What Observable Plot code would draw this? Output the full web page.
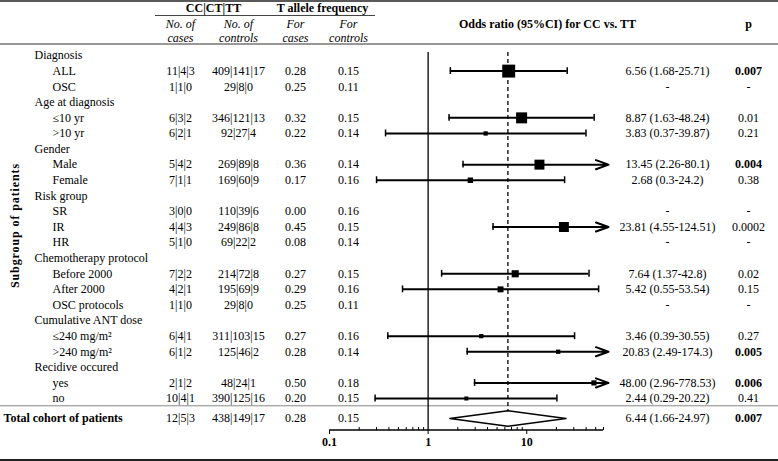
<!DOCTYPE html>
<html><head><meta charset="utf-8">
<script src="https://cdn.jsdelivr.net/npm/d3@7"></script>
<script src="https://cdn.jsdelivr.net/npm/@observablehq/plot@0.6"></script>
<style>html,body{margin:0;padding:0;background:#fff;} #chart svg{display:block;}</style>
</head><body><div id="chart"></div>
<script>
// ---------- data ----------
const rowLabels = ["Diagnosis","ALL","OSC","Age at diagnosis","≤10 yr",">10 yr","Gender","Male","Female","Risk group","SR","IR","HR","Chemotherapy protocol","Before 2000","After 2000","OSC protocols","Cumulative ANT dose","≤240 mg/m²",">240 mg/m²","Recidive occured","yes","no"];
const rowIsGroup = [1,0,0,1,0,0,1,0,0,1,0,0,0,1,0,0,0,1,0,0,1,0,0];
const casesCCCTTT = ["","11|4|3","1|1|0","","6|3|2","6|2|1","","5|4|2","7|1|1","","3|0|0","4|4|3","5|1|0","","7|2|2","4|2|1","1|1|0","","6|4|1","6|1|2","","2|1|2","10|4|1"];
const controlsCCCTTT = ["","409|141|17","29|8|0","","346|121|13","92|27|4","","269|89|8","169|60|9","","110|39|6","249|86|8","69|22|2","","214|72|8","195|69|9","29|8|0","","311|103|15","125|46|2","","48|24|1","390|125|16"];
const tFreqCases = [null,0.28,0.25,null,0.32,0.22,null,0.36,0.17,null,0.00,0.45,0.08,null,0.27,0.29,0.25,null,0.27,0.28,null,0.50,0.20];
const tFreqControls = [null,0.15,0.11,null,0.15,0.14,null,0.14,0.16,null,0.16,0.15,0.14,null,0.15,0.16,0.11,null,0.16,0.14,null,0.18,0.15];
const oddsRatio = [null,6.56,null,null,8.87,3.83,null,13.45,2.68,null,null,23.81,null,null,7.64,5.42,null,null,3.46,20.83,null,48.00,2.44];
const ciLower = [null,1.68,null,null,1.63,0.37,null,2.26,0.3,null,null,4.55,null,null,1.37,0.55,null,null,0.39,2.49,null,2.96,0.29];
const ciUpper = [null,25.71,null,null,48.24,39.87,null,80.1,24.2,null,null,124.51,null,null,42.8,53.54,null,null,30.55,174.3,null,778.53,20.22];
const orLabels = ["","6.56 (1.68-25.71)","-","","8.87 (1.63-48.24)","3.83 (0.37-39.87)","","13.45 (2.26-80.1)","2.68 (0.3-24.2)","","-","23.81 (4.55-124.51)","-","","7.64 (1.37-42.8)","5.42 (0.55-53.54)","-","","3.46 (0.39-30.55)","20.83 (2.49-174.3)","","48.00 (2.96-778.53)","2.44 (0.29-20.22)"];
const pLabels = ["","0.007","-","","0.01","0.21","","0.004","0.38","","-","0.0002","-","","0.02","0.15","-","","0.27","0.005","","0.006","0.41"];
const pBold = [0,1,0,0,0,0,0,1,0,0,0,0,0,0,0,0,0,0,0,1,0,1,0];
const studyWeight = [null,100,null,null,85,33,null,77,42,null,null,77,null,null,55,46,null,null,33,33,null,40,31];

const totalLabel = "Total cohort of patients";
const totalCases = "12|5|3";
const totalControls = "438|149|17";
const totalFreq = [0.28, 0.15];
const totalOR = 6.44, totalLower = 1.66, totalUpper = 24.97;
const totalORLabel = "6.44 (1.66-24.97)";
const totalP = "0.007";

const axisDomain = [0.1, 60];
const majorTicks = [0.1, 1, 10];
const minorTicks = [0.2,0.3,0.4,0.5,0.6,0.7,0.8,0.9,2,3,4,5,6,7,8,9,20,30,40,50,60];

// ---------- build ----------
const rows = rowLabels.map((label, i) => ({
  i, label, group: rowIsGroup[i] === 1,
  cases: casesCCCTTT[i], controls: controlsCCCTTT[i],
  fCases: tFreqCases[i] == null ? "" : tFreqCases[i].toFixed(2),
  fControls: tFreqControls[i] == null ? "" : tFreqControls[i].toFixed(2),
  or: oddsRatio[i], lo: ciLower[i], hi: ciUpper[i],
  orText: orLabels[i], p: pLabels[i], bold: pBold[i] === 1, w: studyWeight[i]
}));
const xMax = axisDomain[1];
const est = rows.filter(d => d.or != null);
const within = est.filter(d => d.hi <= xMax);
const beyond = est.filter(d => d.hi > xMax);
const totalRow = rows.length + 0.28;
const axisRow = rows.length + 1.05;
const total = [{i: totalRow, label: totalLabel, cases: totalCases, controls: totalControls,
  fCases: totalFreq[0].toFixed(2), fControls: totalFreq[1].toFixed(2), orText: totalORLabel, p: totalP}];
const diamond = [
  {x: totalLower, y: totalRow}, {x: totalOR, y: totalRow - 0.5},
  {x: totalUpper, y: totalRow}, {x: totalOR, y: totalRow + 0.5}, {x: totalLower, y: totalRow}
];
const tableRows = rows.concat(total);

function tableRules(index, scales, values, dimensions) {
  const {width, height, marginBottom} = dimensions;
  const axisY = height - marginBottom;
  const lines = [
    {x1: 0, x2: width, y: 1, w: 1.5, c: "#222"},
    {x1: 155, x2: 375, y: 15.5, w: 1.2, c: "#444"},
    {x1: 0, x2: width, y: 44, w: 1.2, c: "#333"},
    {x1: 0, x2: width, y: scales.y(rows.length - 0.5), w: 1, c: "#888"},
    {x1: 0, x2: width, y: height - 1, w: 2, c: "#222"},
    {x1: scales.x(axisDomain[0]), x2: scales.x(axisDomain[1]), y: axisY, w: 1.3, c: "#000"}
  ];
  const g = d3.create("svg:g");
  g.selectAll("line").data(lines).join("line")
    .attr("x1", d => d.x1).attr("x2", d => d.x2)
    .attr("y1", d => d.y).attr("y2", d => d.y)
    .attr("stroke", d => d.c).attr("stroke-width", d => d.w);
  return g.node();
}

const col = (key, dx, opts = {}) => Plot.text(tableRows, {y: "i", text: key, frameAnchor: "left", dx, textAnchor: "middle", ...opts});
const head = (txt, dx, dy, opts = {}) => Plot.text([txt], {frameAnchor: "top-left", dx, dy, textAnchor: "middle", lineAnchor: "middle", ...opts});

const chart = Plot.plot({
  width: 778, height: 461,
  marginTop: 0, marginLeft: 0, marginRight: 0, marginBottom: 31,
  style: {fontFamily: "Liberation Serif", fontSize: "12px", color: "#000", background: "#fff"},
  x: {type: "log", domain: axisDomain, range: [329, 603]},
  y: {domain: [0, 22], range: [55, 398], axis: null},
  r: {type: "linear", domain: [0, 100], range: [0, 7.3]},
  marks: [
    tableRules,
    // reference lines
    Plot.ruleX([1], {y1: -0.2, y2: axisRow, stroke: "#000", strokeWidth: 1.3}),
    Plot.ruleX([totalOR], {y1: -0.2, y2: totalRow - 0.5, stroke: "#000", strokeWidth: 1.3, strokeDasharray: "4,3"}),
    // CIs
    Plot.ruleY(within, {y: "i", x1: "lo", x2: "hi", stroke: "#000", strokeWidth: 2}),
    Plot.arrow(beyond, {x1: "lo", x2: () => xMax, y1: "i", y2: "i", stroke: "#000", strokeWidth: 2, headLength: 10, headAngle: 40, insetEnd: -5}),
    Plot.ruleX(est, {x: "lo", y1: d => d.i - 0.22, y2: d => d.i + 0.22, stroke: "#000", strokeWidth: 1.5}),
    Plot.ruleX(within, {x: "hi", y1: d => d.i - 0.22, y2: d => d.i + 0.22, stroke: "#000", strokeWidth: 1.5}),
    Plot.dot(est, {x: "or", y: "i", r: "w", symbol: "square", fill: "#000", stroke: null}),
    Plot.line(diamond, {x: "x", y: "y", stroke: "#000", strokeWidth: 1.5, fill: "#fff"}),
    // axis
    Plot.axisX(majorTicks, {anchor: "bottom", tickSize: 4, tickPadding: 3, tickFormat: d => `${d}`, fontWeight: "bold", fontSize: 12}),
    Plot.axisX(minorTicks, {anchor: "bottom", tickSize: -3, tickFormat: () => ""}),
    // row labels
    Plot.text(rows.filter(d => d.group), {y: "i", text: "label", frameAnchor: "left", dx: 34, textAnchor: "start"}),
    Plot.text(rows.filter(d => !d.group), {y: "i", text: "label", frameAnchor: "left", dx: 52, textAnchor: "start"}),
    Plot.text(total, {y: "i", text: "label", frameAnchor: "left", dx: 3, textAnchor: "start", fontWeight: "bold"}),
    // table columns
    col("cases", 180), col("controls", 238), col("fCases", 295), col("fControls", 348),
    col("orText", 667),
    Plot.text(tableRows.filter(d => !d.bold && d.i !== totalRow), {y: "i", text: "p", frameAnchor: "left", dx: 748, textAnchor: "middle"}),
    Plot.text(tableRows.filter(d => d.bold || d.i === totalRow), {y: "i", text: "p", frameAnchor: "left", dx: 748, textAnchor: "middle", fontWeight: "bold"}),
    // headers
    head("CC|CT|TT", 213, 8, {fontWeight: "bold"}),
    head("T allele frequency", 322, 8, {fontWeight: "bold"}),
    head("No. of\ncases", 180, 30, {fontStyle: "italic", lineHeight: 1.15}),
    head("No. of\ncontrols", 238, 30, {fontStyle: "italic", lineHeight: 1.15}),
    head("For\ncases", 295, 30, {fontStyle: "italic", lineHeight: 1.15}),
    head("For\ncontrols", 348, 30, {fontStyle: "italic", lineHeight: 1.15}),
    head("Odds ratio (95%CI) for CC vs. TT", 547, 24, {fontWeight: "bold"}),
    head("p", 748, 24, {fontWeight: "bold"}),
    head("Subgroup of patients", 15, 225, {rotate: -90, fontWeight: "bold"})
  ]
});
d3.select(chart).selectAll("text").filter(function() { return this.textContent === "Subgroup of patients"; })
  .attr("letter-spacing", "0.9px");
document.getElementById("chart").append(chart);
</script>
</body></html>
